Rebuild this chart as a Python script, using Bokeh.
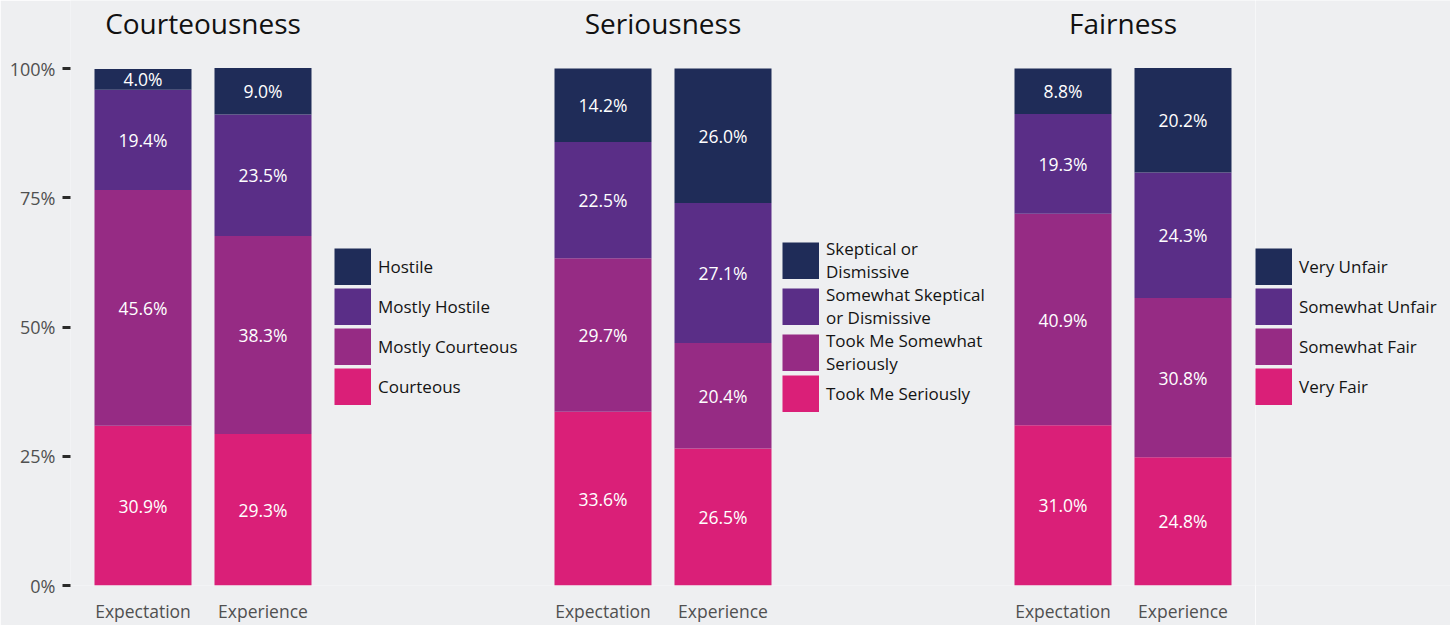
from bokeh.plotting import figure
from bokeh.models import (ColumnDataSource, FactorRange, Range1d, Legend, LegendItem,
                          FixedTicker)
from bokeh.layouts import row
from bokeh.core.properties import value
from bokeh.embed import file_html
from bokeh.resources import INLINE

# ---------------- data ----------------
categories = ["Expectation", "Experience"]
y_ticks = [0, 25, 50, 75, 100]
y_tick_labels = ["0%", "25%", "50%", "75%", "100%"]

panel_titles = ["Courteousness", "Seriousness", "Fairness"]

court_labels = ["Courteous", "Mostly Courteous", "Mostly Hostile", "Hostile"]
court_expectation = [30.9, 45.6, 19.4, 4.0]
court_experience = [29.3, 38.3, 23.5, 9.0]

serious_labels = ["Took Me Seriously", "Took Me Somewhat\nSeriously",
                  "Somewhat Skeptical\nor Dismissive", "Skeptical or\nDismissive"]
serious_expectation = [33.6, 29.7, 22.5, 14.2]
serious_experience = [26.5, 20.4, 27.1, 26.0]

fair_labels = ["Very Fair", "Somewhat Fair", "Somewhat Unfair", "Very Unfair"]
fair_expectation = [31.0, 40.9, 19.3, 8.8]
fair_experience = [24.8, 30.8, 24.3, 20.2]

colors = ["#da1f78", "#962b84", "#5a2e87", "#1f2c58"]

BG = "#eeeff1"
FONT = "Open Sans"

# ---------------- layout constants ----------------
W_MAIN, W_LEG, H = 1255, 195, 625
LEFT, BOTTOM = 70, 40
FRAME_H = H - BOTTOM          # frame spans from top of plot to above x labels
BAR_PX = 517                  # pixels for 0..100 %
Y_TOP = 100 * FRAME_H / BAR_PX
TITLE_Y = 100 * (FRAME_H - 22) / BAR_PX
# legend (left, bottom) in px inside each frame
LEGEND_LOC = [(264, 180), (712, 173), (0, 180)]
LEGEND_SPACING = [3, 0, 3]

panels = [
    (panel_titles[0], court_labels, court_expectation, court_experience),
    (panel_titles[1], serious_labels, serious_expectation, serious_experience),
    (panel_titles[2], fair_labels, fair_expectation, fair_experience),
]

factors = [(t, c) for t in panel_titles for c in categories]

p = figure(
    x_range=FactorRange(*factors, factor_padding=0.2, group_padding=2.4,
                        range_padding=0.225, range_padding_units="absolute"),
    y_range=Range1d(0, Y_TOP),
    width=W_MAIN, height=H,
    min_border_left=LEFT, min_border_right=0, min_border_top=0,
    min_border_bottom=BOTTOM,
    output_backend="svg", toolbar_location=None,
)
p.background_fill_color = BG
p.border_fill_color = BG
p.outline_line_color = None
p.grid.visible = False

# second, axis-less figure that only hosts the last legend
pl = figure(
    x_range=Range1d(0, 1), y_range=Range1d(0, 1),
    width=W_LEG, height=H, min_border=0,
    x_axis_type=None, y_axis_type=None,
    output_backend="svg", toolbar_location=None,
)
pl.background_fill_color = BG
pl.border_fill_color = BG
pl.outline_line_color = None
pl.grid.visible = False

# x axis
xa = p.xaxis[0]
xa.axis_line_color = None
xa.major_tick_line_color = None
xa.minor_tick_line_color = None
xa.separator_line_alpha = 0
xa.group_text_font_size = "0px"
xa.group_text_alpha = 0
xa.major_label_standoff = 7
xa.major_label_text_font = FONT
xa.major_label_text_font_size = "17.5px"
xa.major_label_text_color = "#505050"

# y axis
ya = p.yaxis[0]
ya.ticker = FixedTicker(ticks=y_ticks)
ya.major_label_overrides = {t: l for t, l in zip(y_ticks, y_tick_labels)}
ya.axis_line_color = None
ya.minor_tick_line_color = None
ya.major_tick_in = 0
ya.major_tick_out = 8
ya.major_tick_line_width = 3
ya.major_tick_line_color = "#2a2a2a"
ya.major_label_standoff = 7
ya.major_label_text_font = FONT
ya.major_label_text_font_size = "18px"
ya.major_label_text_color = "#505050"

for k, (title, labels, expect_vals, exper_vals) in enumerate(panels):
    keys = [f"s{i}" for i in range(len(labels))]
    data = {"x": [(title, c) for c in categories]}
    for i, key in enumerate(keys):
        data[key] = [expect_vals[i], exper_vals[i]]
    src = ColumnDataSource(data)
    p.vbar_stack(keys, x="x", width=0.97, source=src, color=colors, line_color=None)

    # value labels
    tx, ty, tt = [], [], []
    for cat, vals in zip(categories, [expect_vals, exper_vals]):
        bottom = 0.0
        for v in vals:
            tx.append((title, cat))
            ty.append(bottom + v / 2)
            tt.append(f"{v:.1f}%")
            bottom += v
    p.text(x=tx, y=ty, text=tt, text_align="center", text_baseline="middle",
           text_color="white", text_font=value(FONT), text_font_size="17.5px")

    # panel title
    p.text(x=[title], y=[TITLE_Y], text=[title], text_align="center",
           text_baseline="middle", text_color="#111111", text_font=value(FONT),
           text_font_size="28px")

    # legend swatches (thick line legend glyph gives a full square)
    host = p if k < 2 else pl
    if k < 2:
        swatches = [host.line(x=[(title, categories[0])], y=[0], line_width=37,
                              line_color=colors[i]) for i in range(len(labels))]
    else:
        swatches = [host.line(x=[0], y=[0], line_width=37,
                              line_color=colors[i]) for i in range(len(labels))]
    items = [LegendItem(label=labels[i], renderers=[swatches[i]])
             for i in reversed(range(len(labels)))]
    legend = Legend(items=items, location=LEGEND_LOC[k],
                    orientation="vertical",
                    glyph_width=37, glyph_height=37, spacing=LEGEND_SPACING[k],
                    label_standoff=7, label_height=37, margin=0, padding=0,
                    border_line_color=None, background_fill_alpha=0,
                    label_text_font=FONT, label_text_font_size="17px",
                    label_text_color="#141414", label_text_line_height=0.76)
    host.add_layout(legend)

layout = row(p, pl)

open("out.html", "w").write(file_html(layout, INLINE))
